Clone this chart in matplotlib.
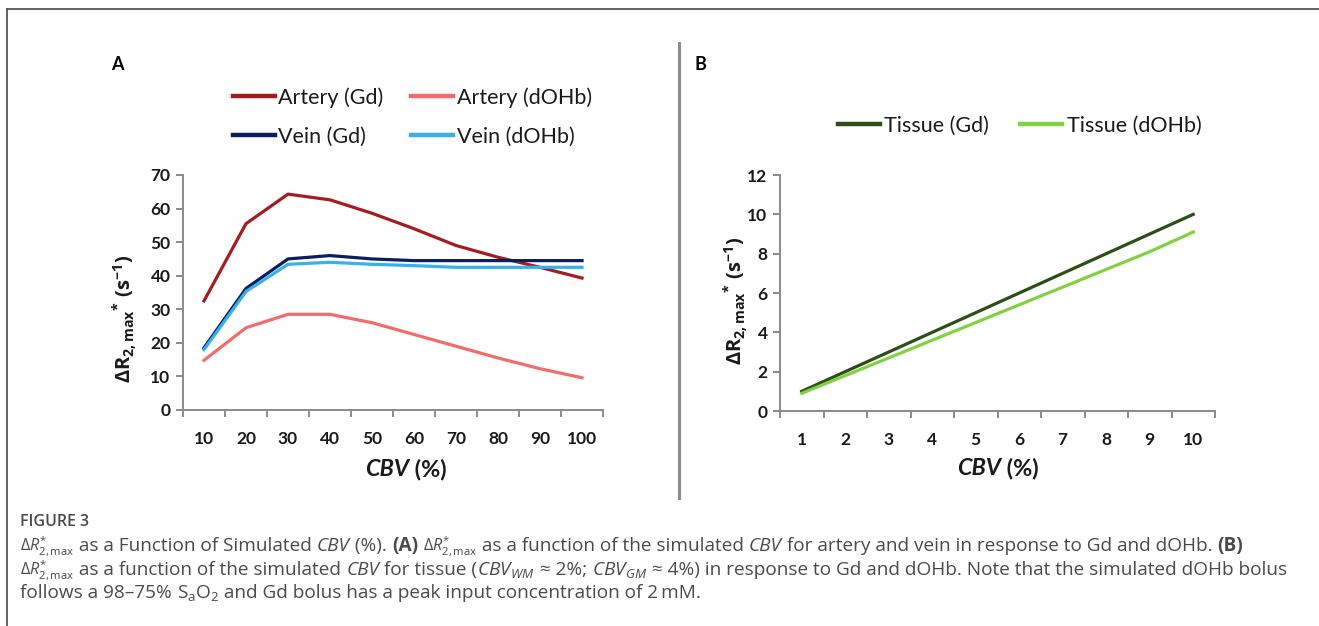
import matplotlib
matplotlib.use("Agg")
import matplotlib.pyplot as plt
from matplotlib.lines import Line2D
import numpy as np

# ---------------- data ----------------
cbv_a = ["10", "20", "30", "40", "50", "60", "70", "80", "90", "100"]
artery_gd = [32.5, 55.5, 64.3, 62.6, 58.6, 54.0, 49.0, 45.5, 42.5, 39.3]
artery_dohb = [14.8, 24.5, 28.5, 28.5, 26.0, 22.5, 19.0, 15.5, 12.3, 9.6]
vein_gd = [18.5, 36.2, 45.0, 46.0, 45.0, 44.5, 44.5, 44.5, 44.5, 44.5]
vein_dohb = [18.0, 35.3, 43.4, 44.0, 43.4, 43.0, 42.5, 42.5, 42.5, 42.5]

cbv_b = ["1", "2", "3", "4", "5", "6", "7", "8", "9", "10"]
tissue_gd = [1.0, 2.0, 3.0, 4.0, 5.0, 6.0, 7.0, 8.0, 9.0, 10.0]
tissue_dohb = [0.9, 1.8, 2.7, 3.6, 4.5, 5.4, 6.3, 7.2, 8.1, 9.1]

yticks_a = [0, 10, 20, 30, 40, 50, 60, 70]
yticks_b = [0, 2, 4, 6, 8, 10, 12]

# ---------------- style ----------------
W, H = 1319, 626
plt.rcParams['font.family'] = ['Lato', 'DejaVu Sans']
plt.rcParams['mathtext.fontset'] = 'custom'
plt.rcParams['mathtext.rm'] = 'Open Sans'
plt.rcParams['mathtext.it'] = 'Open Sans:italic'
plt.rcParams['mathtext.bf'] = 'Open Sans:bold'
plt.rcParams['mathtext.sf'] = 'Open Sans'

C_ART_GD = '#A51C1F'
C_ART_DO = '#F36C6C'
C_VEIN_GD = '#0E1D5C'
C_VEIN_DO = '#35B1EE'
C_TIS_GD = '#2C4F18'
C_TIS_DO = '#80D243'
SPINE = '#8a8a8a'
TXT = '#1a1a1a'
CAP = '#4a4a4a'

fig = plt.figure(figsize=(W / 100, H / 100), dpi=100)


def fx(px):
    return px / W


def fy(py):
    return 1 - py / H


def px_axes(l, t, r, b):
    return fig.add_axes([fx(l), fy(b), (r - l) / W, (b - t) / H])


def style_axes(ax, cats, yticks, ymax):
    n = len(cats)
    ax.set_xlim(0.5, n + 0.5)
    ax.set_ylim(0, ymax)
    for s in ['top', 'right']:
        ax.spines[s].set_visible(False)
    for s in ['left', 'bottom']:
        ax.spines[s].set_color(SPINE)
        ax.spines[s].set_linewidth(1.4)
    ax.set_xticks(np.arange(1, n + 1), cats)
    ax.set_xticks(np.arange(0.5, n + 1.0, 1.0), minor=True)
    ax.tick_params(axis='x', which='major', length=0, pad=15,
                   labelsize=12.5, labelcolor=TXT)
    ax.tick_params(axis='x', which='minor', length=5, width=1.4,
                   color=SPINE, direction='out')
    ax.set_yticks(yticks)
    ax.tick_params(axis='y', length=5, width=1.4, color=SPINE,
                   direction='out', pad=4, labelsize=12.5, labelcolor=TXT)
    for lab in ax.get_xticklabels() + ax.get_yticklabels():
        lab.set_fontweight('bold')


# ---------------- panel A ----------------
axA = px_axes(183, 175, 603, 410)
xa = np.arange(1, len(cbv_a) + 1)
lA1, = axA.plot(xa, artery_gd, color=C_ART_GD, lw=2.3, label='Artery (Gd)')
lA2, = axA.plot(xa, artery_dohb, color=C_ART_DO, lw=2.3, label='Artery (dOHb)')
lA3, = axA.plot(xa, vein_gd, color=C_VEIN_GD, lw=2.3, label='Vein (Gd)')
lA4, = axA.plot(xa, vein_dohb, color=C_VEIN_DO, lw=2.3, label='Vein (dOHb)')
style_axes(axA, cbv_a, yticks_a, 70)

legA = fig.legend(handles=[lA1, lA3, lA2, lA4], ncol=2, loc='upper left',
                  bbox_to_anchor=(fx(233), fy(87)), frameon=False,
                  fontsize=15.5, handlelength=1.95, handletextpad=0.15,
                  columnspacing=1.3, labelspacing=0.88, borderaxespad=0,
                  borderpad=0)
for h in legA.get_lines():
    h.set_linewidth(3.2)
for t in legA.get_texts():
    t.set_color(TXT)

# ---------------- panel B ----------------
axB = px_axes(780, 175, 1215, 411)
xb = np.arange(1, len(cbv_b) + 1)
lB1, = axB.plot(xb, tissue_gd, color=C_TIS_GD, lw=2.3, label='Tissue (Gd)')
lB2, = axB.plot(xb, tissue_dohb, color=C_TIS_DO, lw=2.3, label='Tissue (dOHb)')
style_axes(axB, cbv_b, yticks_b, 12)

legB = fig.legend(handles=[lB1, lB2], ncol=2, loc='upper left',
                  bbox_to_anchor=(fx(838), fy(116)), frameon=False,
                  fontsize=15.5, handlelength=1.95, handletextpad=0.2,
                  columnspacing=1.45, borderaxespad=0, borderpad=0)
for h in legB.get_lines():
    h.set_linewidth(3.2)
for t in legB.get_texts():
    t.set_color(TXT)

# ---------------- labels ----------------
ylab = r'$\mathbf{\Delta R_{2,max}}^{\mathbf{*}}\ \mathbf{(s^{-1})}$'
fig.text(fx(125), fy(319), ylab, rotation=90, ha='center', va='center',
         fontsize=14.5, color=TXT)
fig.text(fx(736), fy(301), ylab, rotation=90, ha='center', va='center',
         fontsize=14.5, color=TXT)

fig.text(fx(117), fy(65), 'A', fontsize=13, fontweight='bold', ha='center',
         va='center', color='black')
fig.text(fx(700), fy(65), 'B', fontsize=13, fontweight='bold', ha='center',
         va='center', color='black')

renderer = fig.canvas.get_renderer()


def seg_width(s, kw):
    if s.startswith('$'):
        t = fig.text(0, 0, s, **kw)
        w = t.get_window_extent(renderer).width
        t.remove()
        return w
    t1 = fig.text(0, 0, '|' + s + '|', **kw)
    t2 = fig.text(0, 0, '||', **kw)
    w = t1.get_window_extent(renderer).width - t2.get_window_extent(renderer).width
    t1.remove()
    t2.remove()
    return w


def draw_segments(x_px, y_px, segs, ha='left'):
    widths = [seg_width(s, kw) for s, kw in segs]
    total = sum(widths)
    x = x_px - (total / 2 if ha == 'center' else 0)
    for (s, kw), w in zip(segs, widths):
        fig.text(fx(x), fy(y_px), s, ha='left', va='baseline', **kw)
        x += w


xl_b = dict(fontsize=16.8, fontweight='bold', color=TXT)
xl_bi = dict(fontsize=16.8, fontweight='bold', style='italic', color=TXT)
draw_segments(406, 476, [('CBV', xl_bi), (' (%)', xl_b)], ha='center')
draw_segments(998, 475, [('CBV', xl_bi), (' (%)', xl_b)], ha='center')

# ---------------- frame & separator ----------------
fig.add_artist(Line2D([fx(7), fx(W)], [fy(9), fy(9)], color='#555555', lw=1.3))
fig.add_artist(Line2D([fx(7), fx(7)], [fy(9), fy(H)], color='#555555', lw=1.3))
fig.add_artist(Line2D([fx(679), fx(679)], [fy(43), fy(498)], color='#8c8c8c', lw=2.2))

# ---------------- caption ----------------
cfs = 13.7
cr = dict(fontsize=cfs, color=CAP, family='Open Sans')
ci = dict(fontsize=cfs, color=CAP, family='Open Sans', style='italic')
cb = dict(fontsize=cfs, color=CAP, family='Open Sans', fontweight='bold')
cm = dict(fontsize=11.6, color=CAP, family='Open Sans')
dr = r'$\Delta\mathit{R}^{*}_{\mathrm{2,max}}$'

fig.text(fx(20), fy(526), 'FIGURE 3', fontsize=11.5, color=CAP, family='Open Sans',
         fontweight='semibold', va='baseline')

draw_segments(20, 551, [
    (dr, cm), (' as a Function of Simulated ', cr), ('CBV', ci), (' (%). ', cr),
    ('(A)', cb), (' ', cr), (dr, cm), (' as a function of the simulated ', cr),
    ('CBV', ci), (' for artery and vein in response to Gd and dOHb. ', cr),
    ('(B)', cb)])
draw_segments(20, 575, [
    (dr, cm), (' as a function of the simulated ', cr), ('CBV', ci),
    (' for tissue (', cr), (r'$\mathit{CBV}_{\mathit{WM}}$', cr), (' \u2248 2%; ', cr),
    (r'$\mathit{CBV}_{\mathit{GM}}$', cr), (' \u2248 4%) in response to Gd and dOHb. '
                                            'Note that the simulated dOHb bolus', cr)])
draw_segments(20, 598, [
    ('follows a 98\u201375% ', cr), (r'$\mathrm{S_{a}O_{2}}$', cr),
    (' and Gd bolus has a peak input concentration of 2\u2009mM.', cr)])

fig.savefig('out.png', dpi=100)
